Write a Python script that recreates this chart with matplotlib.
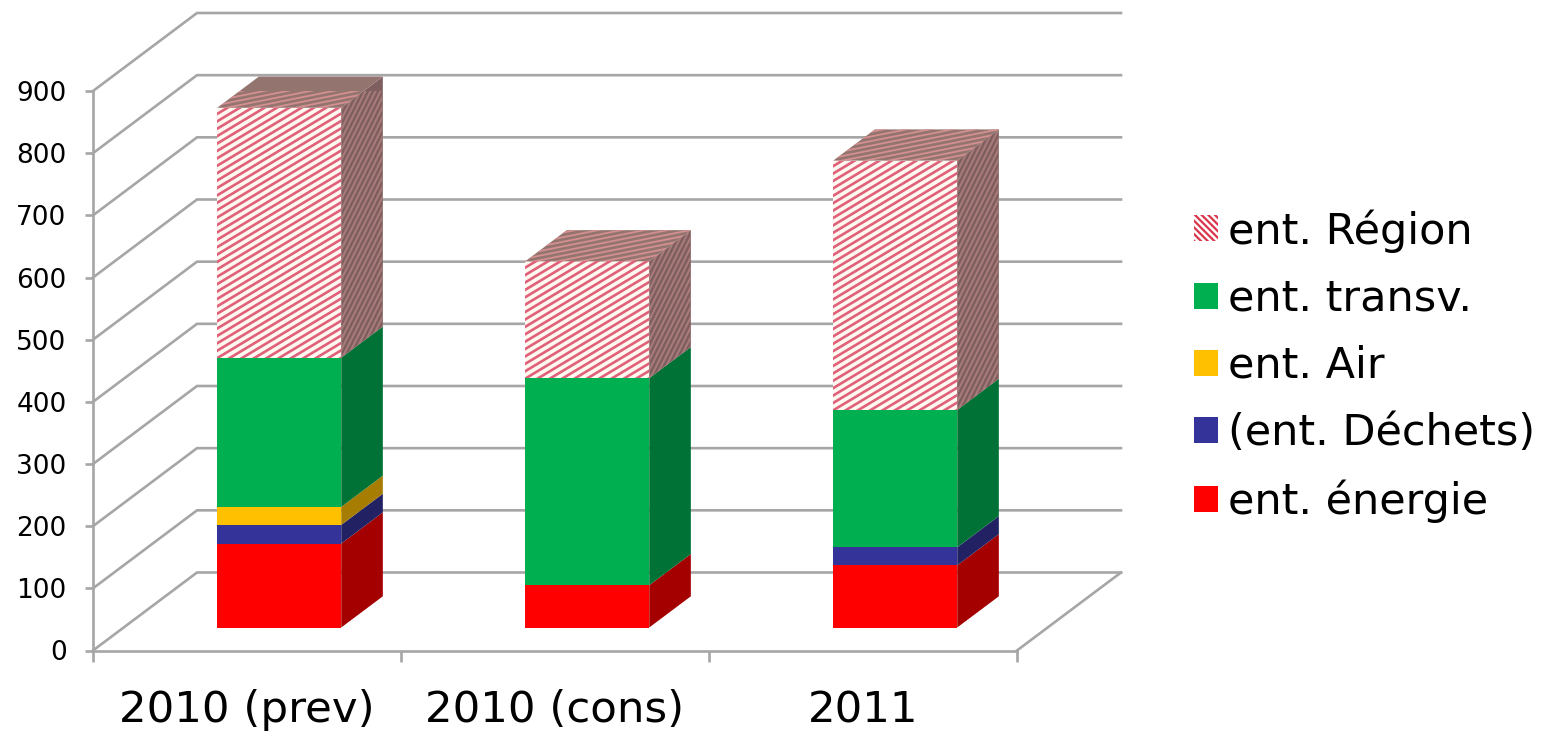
import numpy as np
import matplotlib
matplotlib.use("Agg")
import matplotlib.pyplot as plt
from matplotlib.patches import Polygon, Patch
from matplotlib.collections import LineCollection

categories = ["2010 (prev)", "2010 (cons)", "2011"]
energie = [135, 68, 100]
dechets = [30, 0, 29]
air = [29, 0, 0]
transv = [240, 333, 221]
region = [402, 188, 401]
series_names = ["ent. énergie", "(ent. Déchets)", "ent. Air", "ent. transv.", "ent. Région"]
series_values = [energie, dechets, air, transv, region]
front_colors = ["#ff0000", "#333399", "#ffc000", "#00b050", None]
side_colors = ["#a50000", "#212164", "#a67d00", "#007236", None]
y_ticks = list(range(0, 1000, 100))

W, H = 1545, 733
plt.rcParams["font.family"] = "DejaVu Sans"
plt.rcParams["hatch.linewidth"] = 1.6
fig = plt.figure(figsize=(W / 100, H / 100), dpi=100)
ax = fig.add_axes([93 / W, (H - 650.5) / H, 924 / W, 559.5 / H])
ax.set_xlim(0, 3)
ax.set_ylim(0, 900)
ax.patch.set_visible(False)

GREY = "#a6a6a6"
LW = 1.9
px_x = 924 / 3
px_y = 559.5 / 900
DX = 104 / px_x
DY = 78 / px_y


def proj(x, v, d):
    return (x + d * DX, v + d * DY)


# walls and floor
for v in y_ticks:
    p0, p1, p2 = proj(0, v, 0), proj(0, v, 1), proj(3, v, 1)
    ax.plot([p0[0], p1[0], p2[0]], [p0[1], p1[1], p2[1]], color=GREY, lw=LW,
            clip_on=False, zorder=1, solid_joinstyle="miter")
p0, p1 = proj(3, 0, 0), proj(3, 0, 1)
ax.plot([p0[0], p1[0]], [p0[1], p1[1]], color=GREY, lw=LW, clip_on=False, zorder=1)


def stripes(poly, slope, spacing, bg, color, lw, z):
    patch = Polygon(poly, closed=True, facecolor=bg, edgecolor="none", zorder=z, clip_on=False)
    ax.add_patch(patch)
    pix = ax.transData.transform(np.array(poly))
    c = pix[:, 1] - slope * pix[:, 0]
    segs = []
    x0, x1 = pix[:, 0].min() - 2, pix[:, 0].max() + 2
    for k in np.arange(c.min(), c.max() + spacing, spacing):
        a = ax.transData.inverted().transform([(x0, slope * x0 + k), (x1, slope * x1 + k)])
        segs.append(a)
    lc = LineCollection(segs, colors=color, linewidths=lw, zorder=z + 0.1)
    ax.add_collection(lc, autolim=False)
    lc.set_clip_path(patch)


D0, D1 = 23 / 78, 23 / 78 + 0.4
for i in range(len(categories)):
    base = 0
    xl, xr = i + 0.3038, i + 0.7064
    for s, vals in enumerate(series_values):
        val = vals[i]
        if val == 0:
            continue
        top = base + val
        front = [proj(xl, base, D0), proj(xr, base, D0), proj(xr, top, D0), proj(xl, top, D0)]
        side = [proj(xr, base, D0), proj(xr, base, D1), proj(xr, top, D1), proj(xr, top, D0)]
        z = 3 + s
        if front_colors[s] is None:
            stripes(front, 0.6, 7.4, "#fff8f0", "#e0607a", 1.9, z)
            stripes(side, 2.0, 10.0, "#7e5e5e", "#a87a7a", 1.5, z)
            roof = [proj(xl, top, D0), proj(xr, top, D0), proj(xr, top, D1), proj(xl, top, D1)]
            stripes(roof, 0.2, 4.6, "#94746f", "#d49090", 1.3, z)
        else:
            ax.add_patch(Polygon(side, closed=True, facecolor=side_colors[s], edgecolor="none",
                                 zorder=z, clip_on=False))
            ax.add_patch(Polygon(front, closed=True, facecolor=front_colors[s], edgecolor="none",
                                 zorder=z + 0.2, clip_on=False))
        base = top

# axes
for sp in ("top", "right"):
    ax.spines[sp].set_visible(False)
for sp in ("left", "bottom"):
    ax.spines[sp].set_color(GREY)
    ax.spines[sp].set_linewidth(LW)
    ax.spines[sp].set_zorder(2)
ax.set_yticks(y_ticks)
ax.tick_params(axis="y", labelsize=19, length=6, width=LW, color=GREY, pad=13, labelcolor="black")
for lab in ax.get_yticklabels():
    lab.set_verticalalignment("center_baseline")
ax.set_xticks([0, 1, 2, 3])
ax.set_xticklabels([])
ax.tick_params(axis="x", which="major", length=8, width=LW, color=GREY)
ax.set_xticks([0.5, 1.5, 2.5], minor=True)
ax.set_xticklabels(categories, minor=True)
ax.tick_params(axis="x", which="minor", length=0, labelsize=31.3, pad=28, labelcolor="black")

# legend
handles = []
for s in range(len(series_names) - 1, -1, -1):
    if front_colors[s] is None:
        handles.append(Patch(facecolor="white", edgecolor="#d9364a", hatch="\\\\\\\\\\", lw=0,
                             label=series_names[s]))
    else:
        handles.append(Patch(facecolor=front_colors[s], edgecolor="none", label=series_names[s]))
fig.legend(handles=handles, frameon=False, prop={"size": 31},
           handlelength=0.555, handleheight=0.555, handletextpad=0.24,
           labelspacing=0.585, borderpad=0, borderaxespad=0,
           loc="center left", bbox_to_anchor=(1194 / W, 1 - 366 / H))

fig.savefig("out.png", dpi=100)
